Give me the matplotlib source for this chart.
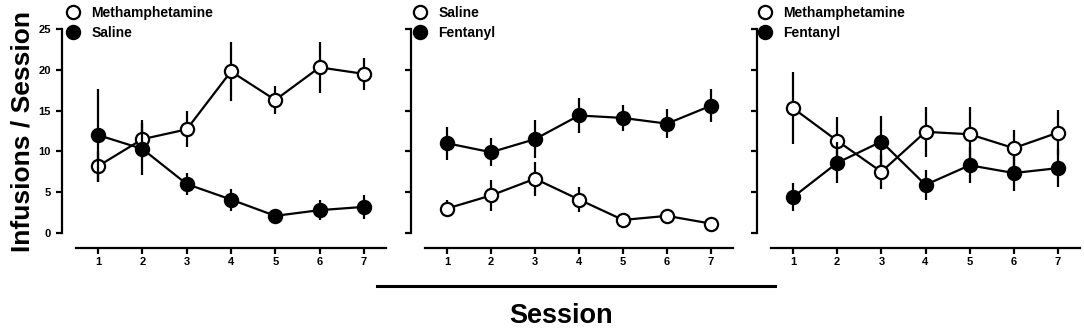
import matplotlib.pyplot as plt
from matplotlib.lines import Line2D

plt.rcParams['font.family'] = ['Liberation Sans', 'DejaVu Sans']
plt.rcParams['font.weight'] = 'bold'

sessions = [1, 2, 3, 4, 5, 6, 7]

# panel 1: methamphetamine vs saline
p1_open_label = 'Methamphetamine'
p1_open_mean = [8.2, 11.5, 12.7, 19.8, 16.3, 20.3, 19.5]
p1_open_sem = [1.9, 2.3, 2.2, 3.6, 1.75, 3.1, 2.0]
p1_fill_label = 'Saline'
p1_fill_mean = [12.0, 10.3, 6.0, 4.1, 2.1, 2.8, 3.2]
p1_fill_sem = [5.7, 3.2, 1.3, 1.35, 0.5, 1.2, 1.5]

# panel 2: saline vs fentanyl
p2_open_label = 'Saline'
p2_open_mean = [3.0, 4.6, 6.65, 4.1, 1.6, 2.1, 1.15]
p2_open_sem = [1.05, 1.9, 2.1, 1.5, 0.4, 0.7, 0.3]
p2_fill_label = 'Fentanyl'
p2_fill_mean = [11.0, 9.9, 11.5, 14.4, 14.1, 13.4, 15.6]
p2_fill_sem = [2.0, 1.7, 2.3, 2.2, 1.6, 1.8, 2.0]

# panel 3: methamphetamine vs fentanyl
p3_open_label = 'Methamphetamine'
p3_open_mean = [15.3, 11.3, 7.5, 12.4, 12.1, 10.4, 12.3]
p3_open_sem = [4.4, 2.9, 2.1, 3.1, 3.3, 2.2, 2.8]
p3_fill_label = 'Fentanyl'
p3_fill_mean = [4.4, 8.6, 11.2, 5.9, 8.3, 7.35, 7.95]
p3_fill_sem = [1.7, 2.5, 3.1, 1.85, 2.2, 2.2, 2.3]

panels = [
    (p1_open_label, p1_open_mean, p1_open_sem, p1_fill_label, p1_fill_mean, p1_fill_sem),
    (p2_open_label, p2_open_mean, p2_open_sem, p2_fill_label, p2_fill_mean, p2_fill_sem),
    (p3_open_label, p3_open_mean, p3_open_sem, p3_fill_label, p3_fill_mean, p3_fill_sem),
]

W, H = 1084, 328
fig = plt.figure(figsize=(W / 100, H / 100), dpi=100)

# axes extents in pixels (left, right); y from 233 (0) to 29 (25)
lefts = [76, 425, 771]
rights = [386, 733, 1080]
legend_x = [73, 420, 765]   # legend marker centres (px)
bottom_px, top_px = 233, 29

ms = 9.5
mew = 1.6
lw = 1.6

for i, (ol, om, os_, fl, fm, fs) in enumerate(panels):
    ax = fig.add_axes([lefts[i] / W, (H - bottom_px) / H,
                       (rights[i] - lefts[i]) / W, (bottom_px - top_px) / H])
    ax.errorbar(sessions, om, yerr=os_, color='black', lw=lw, elinewidth=lw,
                marker='o', ms=ms, mfc='white', mec='black', mew=mew,
                capsize=0, clip_on=False, zorder=3)
    ax.errorbar(sessions, fm, yerr=fs, color='black', lw=lw, elinewidth=lw,
                marker='o', ms=ms, mfc='black', mec='black', mew=mew,
                capsize=0, clip_on=False, zorder=4)
    ax.set_xlim(0.5, 7.5)
    ax.set_ylim(0, 25)
    ax.set_xticks(sessions)
    ax.set_yticks([0, 5, 10, 15, 20, 25])
    for s in ['top', 'right']:
        ax.spines[s].set_visible(False)
    ax.spines['left'].set_position(('outward', 10))
    ax.spines['bottom'].set_position(('outward', 11))
    ax.spines['left'].set_linewidth(1.6)
    ax.spines['bottom'].set_linewidth(1.6)
    ax.tick_params(width=1.6, length=4, labelsize=8)
    ax.tick_params(axis='x', pad=2)
    ax.tick_params(axis='y', pad=4)
    if i > 0:
        ax.set_yticklabels([])
    else:
        ax.set_ylabel('Infusions / Session', fontsize=19, fontweight='bold', labelpad=3)
    handles = [
        Line2D([], [], ls='none', marker='o', ms=ms, mfc='white', mec='black', mew=mew),
        Line2D([], [], ls='none', marker='o', ms=ms, mfc='black', mec='black', mew=mew),
    ]
    ax.legend(handles, [ol, fl], loc='upper left',
              bbox_to_anchor=((legend_x[i] - 8.3) / W, (H - 6) / H),
              bbox_transform=fig.transFigure,
              frameon=False, fontsize=10, handlelength=1.2, handletextpad=0.7,
              labelspacing=0.45, borderaxespad=0, borderpad=0)

# session bar and common x label
fig.add_artist(Line2D([377 / W, 775 / W], [(H - 286) / H, (H - 286) / H],
                      color='black', lw=2.2))
fig.text(561 / W, (H - 316) / H, 'Session', ha='center', va='center',
         fontsize=19.5, fontweight='bold')

fig.savefig('out.png', dpi=100)
